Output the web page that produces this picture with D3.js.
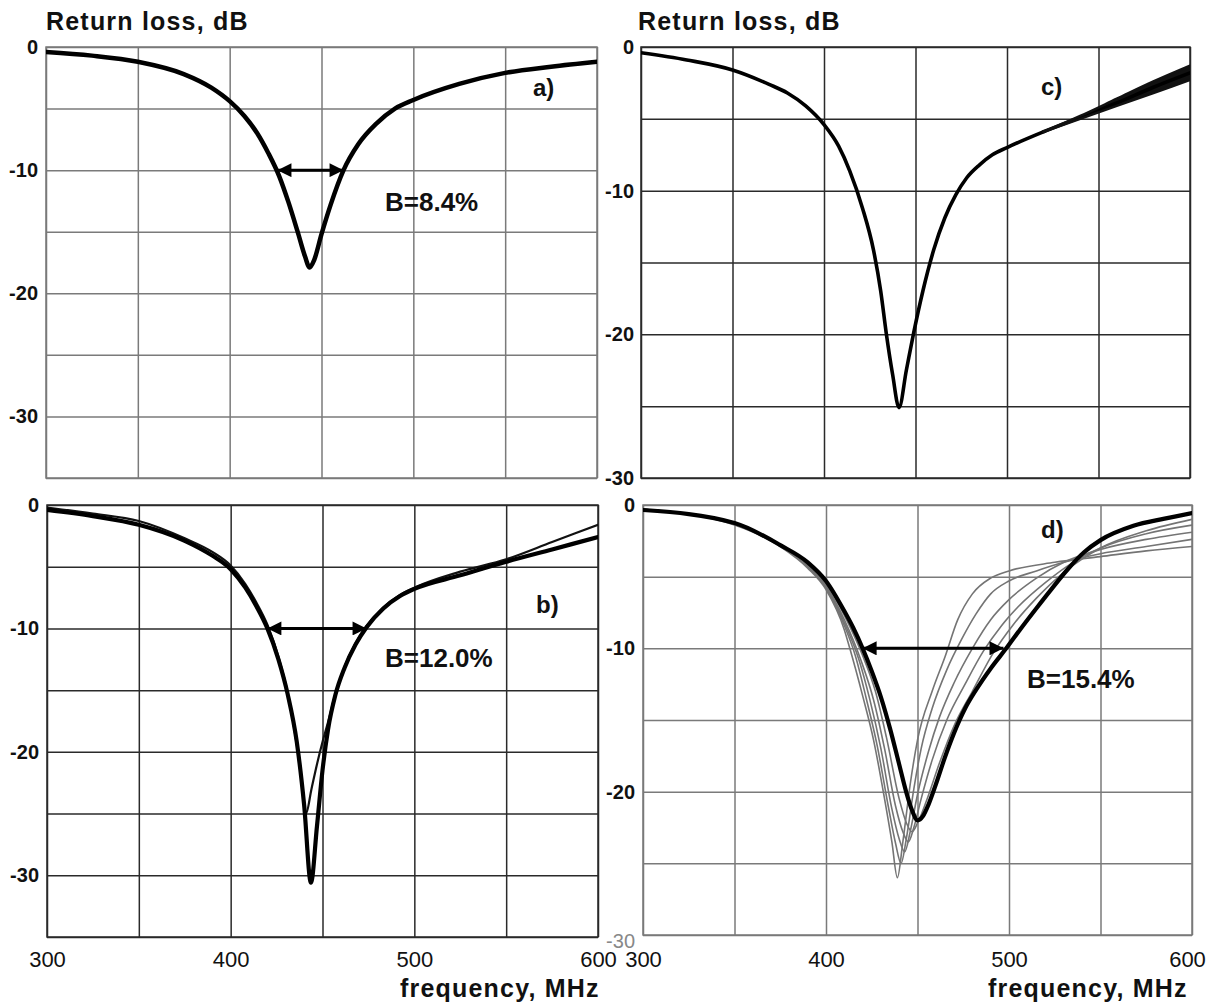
<!DOCTYPE html>
<html>
<head>
<meta charset="utf-8">
<script src="https://cdn.jsdelivr.net/npm/d3@7"></script>
<style>
  body { margin: 0; background: #fff; }
  svg { display: block; }
</style>
</head>
<body>
<svg id="chart" width="1208" height="1007"></svg>
<script>
// ---- data ----
const gridFreq = [300, 350, 400, 450, 500, 550, 600]
const freqTicks = [300, 400, 500, 600]
const lossTicks = [0, -10, -20, -30]

// a) single antenna
const freqA = [300, 325, 350, 375, 390, 400, 408, 415, 421, 427, 432, 437, 441, 443.5, 446, 450, 455, 462, 470, 480, 490, 500, 525, 550, 575, 600]
const lossA = [-0.4, -0.7, -1.2, -2.2, -3.3, -4.4, -5.6, -7.0, -8.6, -10.5, -12.6, -15.0, -17.0, -17.9, -17.3, -15.2, -12.8, -10, -7.9, -6.2, -5.0, -4.3, -3.0, -2.1, -1.6, -1.2]

// b) two curves
const freqB1 = [300, 325, 350, 375, 390, 400, 408, 414, 420, 426, 431, 436, 440, 443.7, 447, 450, 453, 457, 462, 468, 474, 483, 492, 500, 525, 550, 575, 600]
const lossB1 = [-0.4, -0.9, -1.6, -2.9, -4.1, -5.2, -6.7, -8.2, -10.0, -12.5, -15.3, -19.2, -24.3, -30.6, -26, -21.5, -18.2, -15.4, -13.2, -11.3, -9.9, -8.4, -7.4, -6.8, -5.7, -4.6, -3.6, -2.6]
const freqB2 = [300, 325, 350, 375, 390, 400, 408, 414, 420, 426, 431, 436, 439, 441, 444, 447, 450, 453, 457, 462, 468, 474, 483, 492, 500, 525, 550, 575, 600]
const lossB2 = [-0.2, -0.7, -1.3, -2.7, -3.8, -4.9, -6.4, -7.9, -9.7, -12.3, -15.2, -19.4, -22.8, -25, -23, -21, -19.2, -17.6, -15.3, -13.1, -11.2, -9.8, -8.3, -7.3, -6.7, -5.4, -4.4, -3.0, -1.6]

// c) single curve, spreading into a band at the top end
const freqC = [300, 325, 350, 370, 380, 390, 400, 408, 414, 421, 427, 431, 434, 437.5, 441, 445, 449, 454, 460, 466, 472, 478, 485, 492, 500, 520, 540, 560, 580, 600]
const lossC = [-0.4, -0.9, -1.6, -2.6, -3.2, -4.1, -5.4, -6.9, -8.6, -11.2, -14.1, -17, -19.9, -22.8, -25.1, -22.5, -19.9, -17, -14.1, -11.9, -10.3, -9.1, -8.2, -7.5, -7.0, -5.9, -4.9, -3.9, -2.8, -1.8]
const freqCTail = [520, 540, 560, 580, 600]
const lossCTailHi = [-5.9, -4.8, -3.6, -2.4, -1.3]
const lossCTailLo = [-5.9, -5.0, -4.1, -3.2, -2.3]

// d) thick curve plus a family of thin grey curves
const freqD = [300, 350, 375, 390, 400, 410, 415, 420, 425, 430, 435, 440, 444, 447, 450, 453, 456, 460, 465, 470, 476, 482, 490, 498.5, 506, 515, 523, 532, 541, 550, 568, 585, 600]
const lossD = [-0.35, -1.25, -2.8, -4.0, -5.3, -7.4, -8.6, -10, -11.6, -13.4, -15.6, -18.1, -20.1, -21.3, -22, -21.7, -20.9, -19.5, -17.6, -15.9, -14.2, -12.9, -11.4, -10, -8.7, -7.2, -5.9, -4.5, -3.3, -2.45, -1.45, -0.95, -0.56]
const freqD1 = [300, 350, 375, 390, 400, 410, 413, 420, 426, 432, 436, 439, 442, 446, 450, 458, 465, 472, 480, 490, 500, 525, 550, 575, 600]
const lossD1 = [-0.3, -1.4, -2.9, -4.4, -5.9, -8.7, -10, -13.3, -16.4, -20.5, -23.5, -26, -23.5, -19.5, -16.4, -13, -10.6, -8.0, -6.2, -5.1, -4.6, -4.0, -3.6, -3.2, -2.9]
const freqD2 = [300, 350, 375, 390, 400, 410, 416, 422, 428, 434, 438, 441, 444, 448, 452, 458, 466, 474, 482, 490, 500, 515, 530, 550, 575, 600]
const lossD2 = [-0.3, -1.35, -2.85, -4.3, -5.8, -8.4, -10.5, -13.5, -16.8, -21, -23.6, -25, -23.2, -19.8, -17, -14.2, -11.5, -9.4, -7.6, -6.2, -5.3, -4.6, -4.0, -3.4, -2.9, -2.4]
const freqD3 = [300, 350, 375, 390, 400, 410, 418, 424, 430, 436, 440, 443, 446, 450, 456, 462, 470, 480, 490, 500, 515, 530, 550, 575, 600]
const lossD3 = [-0.3, -1.3, -2.85, -4.2, -5.7, -8.2, -10.8, -13.6, -17, -21.2, -23.3, -24.2, -22.8, -20.2, -17.2, -14.8, -12.4, -10, -8.0, -6.6, -5.1, -4.0, -3.1, -2.4, -1.9]
const freqD4 = [300, 350, 375, 390, 400, 410, 419, 426, 432, 438, 442, 445, 448, 452, 458, 466, 476, 486, 496, 505, 520, 535, 550, 575, 600]
const lossD4 = [-0.3, -1.3, -2.8, -4.1, -5.6, -8.0, -10.8, -13.6, -17, -21, -22.8, -23.5, -22.5, -20.5, -17.8, -15, -12.5, -10.2, -8.4, -7.1, -5.4, -4.0, -3.0, -2.0, -1.4]
const freqD5 = [300, 350, 375, 390, 400, 410, 420, 427, 433, 440, 444, 447, 450, 455, 462, 470, 480, 492, 502, 515, 530, 550, 575, 600]
const lossD5 = [-0.3, -1.28, -2.8, -4.05, -5.45, -7.7, -10.5, -13, -16.2, -20.5, -22.2, -22.8, -22.2, -20.6, -18, -15.4, -13, -10.2, -8.4, -6.5, -4.7, -3.0, -1.8, -1.0]

// -10 dB bandwidth markers
const arrowA = [426, 462]
const arrowB = [420, 474]
const arrowD = [420, 497]
const bandLabels = ['B=8.4%', 'B=12.0%', 'B=15.4%']

// ---- drawing ----
const FONT = "'Liberation Sans', Arial, Helvetica, sans-serif"
const svg = d3.select('#chart').attr('font-family', FONT)

svg.append('rect').attr('width', 1208).attr('height', 1007).attr('fill', '#fff')

svg.append('defs')
  .append('marker')
  .attr('id', 'arrowhead')
  .attr('viewBox', '0 0 10 10')
  .attr('refX', 10)
  .attr('refY', 5)
  .attr('markerUnits', 'userSpaceOnUse')
  .attr('markerWidth', 18)
  .attr('markerHeight', 14)
  .attr('orient', 'auto-start-reverse')
  .append('path')
  .attr('d', 'M0,0L10,5L0,10Z')
  .attr('fill', '#000')

const zip = (f, l) => f.map((v, i) => [v, l[i]])
const grey = '#747474'

const panels = [
  {
    id: 'a',
    box: [46, 47, 597, 478],
    yMin: -35,
    grid: '#7a7a7a',
    yPad: 8,
    curves: [{ data: zip(freqA, lossA), width: 4.5, color: '#000' }],
    arrow: arrowA,
    tag: { text: 'a)', x: 533, y: 96 },
    band: { text: bandLabels[0], x: 385, y: 211 },
    xLabels: false
  },
  {
    id: 'c',
    box: [641, 47, 1190, 478],
    yMin: -30,
    grid: '#2a2a2a',
    yPad: 7,
    spread: { freq: freqCTail, hi: lossCTailHi, lo: lossCTailLo },
    curves: [
      { data: zip(freqC, lossC), width: 3.6, color: '#000' },
      { data: zip(freqCTail, lossCTailHi), width: 2.5, color: '#111' },
      { data: zip(freqCTail, lossCTailLo), width: 2.5, color: '#111' }
    ],
    tag: { text: 'c)', x: 1041, y: 95 },
    xLabels: false
  },
  {
    id: 'b',
    box: [47, 505, 598, 937],
    yMin: -35,
    grid: '#2a2a2a',
    yPad: 8,
    curves: [
      { data: zip(freqB2, lossB2), width: 2.2, color: '#111' },
      { data: zip(freqB1, lossB1), width: 4.2, color: '#000' }
    ],
    arrow: arrowB,
    tag: { text: 'b)', x: 536, y: 613 },
    band: { text: bandLabels[1], x: 385, y: 667 },
    xLabels: true,
    xPad: 14
  },
  {
    id: 'd',
    box: [643, 505, 1192, 935],
    yMin: -30,
    grid: '#7a7a7a',
    yPad: 8,
    curves: [
      { data: zip(freqD1, lossD1), width: 1.6, color: grey },
      { data: zip(freqD2, lossD2), width: 1.6, color: grey },
      { data: zip(freqD3, lossD3), width: 1.6, color: grey },
      { data: zip(freqD4, lossD4), width: 1.6, color: grey },
      { data: zip(freqD5, lossD5), width: 1.6, color: grey },
      { data: zip(freqD, lossD), width: 4.2, color: '#000' }
    ],
    arrow: arrowD,
    tag: { text: 'd)', x: 1041, y: 538 },
    band: { text: bandLabels[2], x: 1027, y: 688 },
    xLabels: true,
    xPad: 16,
    faintBottom: true
  }
]

function drawPanel (p) {
  const [left, top, right, bottom] = p.box
  const x = d3.scaleLinear().domain([300, 600]).range([left, right])
  const y = d3.scaleLinear().domain([p.yMin, 0]).range([bottom, top])
  const g = svg.append('g').attr('class', `panel panel-${p.id}`)

  // grid lines
  g.append('g')
    .attr('transform', `translate(0,${bottom})`)
    .call(d3.axisBottom(x).tickValues(gridFreq).tickSize(-(bottom - top)).tickFormat(''))
    .call((s) => s.select('.domain').remove())
    .selectAll('line')
    .attr('stroke', p.grid)
    .attr('stroke-width', 1.5)

  g.append('g')
    .attr('transform', `translate(${left},0)`)
    .call(d3.axisLeft(y).tickValues(d3.range(p.yMin, 0.1, 5)).tickSize(-(right - left)).tickFormat(''))
    .call((s) => s.select('.domain').remove())
    .selectAll('line')
    .attr('stroke', p.grid)
    .attr('stroke-width', 1.5)

  g.append('rect')
    .attr('x', left)
    .attr('y', top)
    .attr('width', right - left)
    .attr('height', bottom - top)
    .attr('fill', 'none')
    .attr('stroke', p.grid)
    .attr('stroke-width', 1.5)

  // y tick labels
  const yAxis = g.append('g')
    .attr('transform', `translate(${left},0)`)
    .call(d3.axisLeft(y).tickValues(lossTicks).tickSize(0).tickPadding(p.yPad).tickFormat((d) => String(d)))
    .attr('font-family', FONT)
  yAxis.select('.domain').remove()
  yAxis.selectAll('text')
    .attr('font-size', 20)
    .attr('font-weight', 'bold')
    .attr('fill', '#111')
  if (p.faintBottom) {
    yAxis.selectAll('text')
      .filter((d) => d === p.yMin)
      .attr('font-weight', 'normal')
      .attr('fill', '#888')
      .attr('dy', '0.6em')
  }

  // x tick labels (the last one nudged in so it stays on the page)
  if (p.xLabels) {
    const xAxis = g.append('g')
      .attr('transform', `translate(0,${bottom})`)
      .call(d3.axisBottom(x).tickValues(freqTicks).tickSize(0).tickPadding(p.xPad).tickFormat((d) => String(d)))
      .attr('font-family', FONT)
    xAxis.select('.domain').remove()
    xAxis.selectAll('text')
      .attr('font-size', 22)
      .attr('fill', '#111')
      .attr('dx', (d) => (d === 600 && right > 1100 ? -5 : 0))
  }

  // curves
  const clipId = `clip-${p.id}`
  g.append('clipPath').attr('id', clipId)
    .append('rect')
    .attr('x', left)
    .attr('y', top - 4)
    .attr('width', right - left)
    .attr('height', bottom - top + 4)

  const plot = g.append('g').attr('clip-path', `url(#${clipId})`)

  // filled spread where several traces fan out
  if (p.spread) {
    const area = d3.area()
      .x((d, i) => x(p.spread.freq[i]))
      .y0((d, i) => y(p.spread.lo[i]))
      .y1((d, i) => y(p.spread.hi[i]))
      .curve(d3.curveMonotoneX)
    plot.append('path')
      .attr('d', area(p.spread.freq))
      .attr('fill', '#111')
  }

  const line = d3.line()
    .x((d) => x(d[0]))
    .y((d) => y(d[1]))
    .curve(d3.curveMonotoneX)

  plot.selectAll('path.curve')
    .data(p.curves)
    .join('path')
    .attr('class', 'curve')
    .attr('d', (d) => line(d.data))
    .attr('fill', 'none')
    .attr('stroke', (d) => d.color)
    .attr('stroke-width', (d) => d.width)
    .attr('stroke-linejoin', 'round')
    .attr('stroke-linecap', 'round')

  // bandwidth arrow at -10 dB
  if (p.arrow) {
    g.append('line')
      .attr('x1', x(p.arrow[0]))
      .attr('x2', x(p.arrow[1]))
      .attr('y1', y(-10))
      .attr('y2', y(-10))
      .attr('stroke', '#000')
      .attr('stroke-width', 3)
      .attr('marker-start', 'url(#arrowhead)')
      .attr('marker-end', 'url(#arrowhead)')
  }

  g.append('text')
    .attr('x', p.tag.x)
    .attr('y', p.tag.y)
    .attr('font-size', 24)
    .attr('font-weight', 'bold')
    .attr('fill', '#111')
    .text(p.tag.text)

  if (p.band) {
    g.append('text')
      .attr('x', p.band.x)
      .attr('y', p.band.y)
      .attr('font-size', 26)
      .attr('font-weight', 'bold')
      .attr('fill', '#111')
      .text(p.band.text)
  }
}

panels.forEach(drawPanel)

// axis titles
const titles = [
  { text: 'Return loss, dB', x: 46, y: 30 },
  { text: 'Return loss, dB', x: 638, y: 30 },
  { text: 'frequency, MHz', x: 400, y: 997 },
  { text: 'frequency, MHz', x: 988, y: 997 }
]
svg.selectAll('text.title')
  .data(titles)
  .join('text')
  .attr('class', 'title')
  .attr('x', (d) => d.x)
  .attr('y', (d) => d.y)
  .attr('font-size', 25)
  .attr('font-weight', 'bold')
  .attr('letter-spacing', 1.2)
  .attr('fill', '#111')
  .text((d) => d.text)
</script>
</body>
</html>
